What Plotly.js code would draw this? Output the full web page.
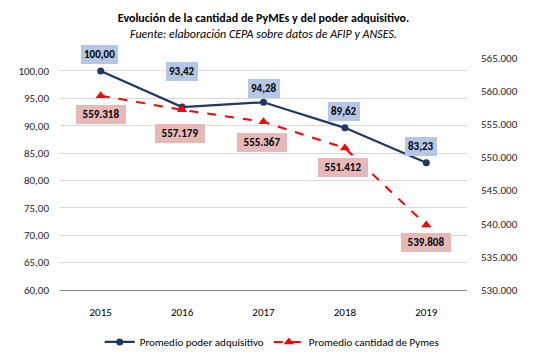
<!DOCTYPE html>
<html>
<head>
<meta charset="utf-8">
<script src="https://cdn.plot.ly/plotly-3.0.1.min.js"></script>
<style>html,body{margin:0;padding:0;background:#fff;}#chart{width:539px;height:363px;}</style>
</head>
<body>
<div id="chart"></div>
<script>
// ---- data ----
var years = ['2015', '2016', '2017', '2018', '2019'];
var poderAdquisitivo = [100.00, 93.42, 94.28, 89.62, 83.23];
var cantidadPymes = [559318, 557179, 555367, 551412, 539808];
var seriesNames = ['Promedio poder adquisitivo', 'Promedio cantidad de Pymes'];
var titleText = 'Evolución de la cantidad de PyMEs y del poder adquisitivo.';
var subtitleText = 'Fuente: elaboración CEPA sobre datos de AFIP y ANSES.';

// ---- style ----
var FONT = 'Carlito, Lato, sans-serif';
var NAVY = '#1f3864';
var RED = '#ff0000';
var blueShift = [[-1, 16], [0, 36], [0, 14], [-1, 16], [-5, 16]];
var redShift = [[0, -19], [-2, -24], [-2, -21], [-2, -19], [0, -18]];

function fmtThousands(v) {
  return String(v).replace(/\B(?=(\d{3})+(?!\d))/g, '.');
}

var traces = [
  {
    x: years, y: poderAdquisitivo, name: seriesNames[0], type: 'scatter', mode: 'lines+markers',
    line: {color: NAVY, width: 2.25},
    marker: {color: NAVY, size: 7, symbol: 'circle'},
    yaxis: 'y', hoverinfo: 'skip'
  },
  {
    x: years, y: cantidadPymes, name: seriesNames[1], type: 'scatter', mode: 'lines+markers',
    line: {color: RED, width: 2, dash: 'dash'},
    marker: {color: RED, size: 9, symbol: 'triangle-up'},
    yaxis: 'y2', hoverinfo: 'skip'
  }
];

var annotations = [];
poderAdquisitivo.forEach(function (v, i) {
  annotations.push({
    x: i, y: v, xref: 'x', yref: 'y',
    text: '<b>' + v.toFixed(2).replace('.', ',') + '</b>',
    showarrow: false, xshift: blueShift[i][0], yshift: blueShift[i][1],
    bgcolor: '#b4c7e7', bordercolor: 'rgba(0,0,0,0)', borderwidth: 0, borderpad: 3,
    font: {family: FONT, size: 11, color: '#000'}
  });
});
cantidadPymes.forEach(function (v, i) {
  annotations.push({
    x: i, y: v, xref: 'x', yref: 'y2',
    text: '<b>' + fmtThousands(v) + '</b>',
    showarrow: false, xshift: redShift[i][0], yshift: redShift[i][1],
    bgcolor: '#e6b8b7', bordercolor: 'rgba(0,0,0,0)', borderwidth: 0, borderpad: 3, width: 44,
    font: {family: FONT, size: 11, color: '#000'}
  });
});

var layout = {
  width: 539, height: 363,
  paper_bgcolor: '#fff', plot_bgcolor: '#fff',
  margin: {l: 60, r: 72, t: 58, b: 73},
  separators: ',.',
  font: {family: FONT, size: 11, color: '#262626'},
  title: {
    text: '<b>' + titleText + '</b><br><i>' + subtitleText + '</i>',
    font: {family: FONT, size: 12, color: '#000'},
    x: 0.5, xref: 'paper', xanchor: 'center', y: 0.939, yref: 'container', yanchor: 'top'
  },
  xaxis: {
    type: 'category', range: [-0.5, 4.5],
    showline: true, linecolor: '#868686', linewidth: 1,
    showgrid: false, ticks: '', ticklabelstandoff: 12,
    tickfont: {family: FONT, size: 11, color: '#000'}
  },
  yaxis: {
    range: [60, 102.37], tick0: 60, dtick: 5, tickformat: '.2f',
    showgrid: true, gridcolor: '#d9d9d9', gridwidth: 1, zeroline: false,
    showline: false, ticks: '', ticklabelstandoff: 10,
    tickfont: {family: FONT, size: 11, color: '#262626'}
  },
  yaxis2: {
    overlaying: 'y', side: 'right',
    range: [530000, 565000], tick0: 530000, dtick: 5000, tickformat: ',d',
    showgrid: false, zeroline: false, showline: false, ticks: '', ticklabelstandoff: 13,
    tickfont: {family: FONT, size: 11, color: '#262626'}
  },
  showlegend: true,
  legend: {
    orientation: 'h', xref: 'container', x: 0.505, xanchor: 'center',
    yref: 'container', y: 0.058, yanchor: 'middle',
    font: {family: FONT, size: 11, color: '#000'},
    itemwidth: 30, traceorder: 'normal', bgcolor: 'rgba(0,0,0,0)'
  },
  annotations: annotations
};

Plotly.newPlot('chart', traces, layout, {staticPlot: true, displayModeBar: false});
</script>
</body>
</html>
